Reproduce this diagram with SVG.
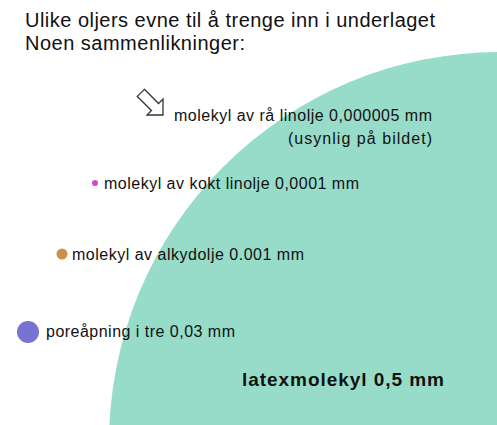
<svg xmlns="http://www.w3.org/2000/svg" width="497" height="425" viewBox="0 0 497 425">
<style>
text{font-family:"Liberation Sans",Arial,sans-serif;fill:#111}
.t{font-size:20px}
.l{font-size:16px}
.b{font-size:19px;font-weight:bold}
</style>
<rect width="497" height="425" fill="#fff"/>
<g id="latex">
<circle cx="500" cy="443" r="391" fill="#97dcc8"/>
<text class="b" x="242" y="386" textLength="202" lengthAdjust="spacing">latexmolekyl 0,5 mm</text>
</g>
<g id="title">
<text class="t" x="25" y="27" textLength="410" lengthAdjust="spacing">Ulike oljers evne til å trenge inn i underlaget</text>
<text class="t" x="25" y="50" textLength="220" lengthAdjust="spacing">Noen sammenlikninger:</text>
</g>
<g id="raa-linolje">
<polygon transform="translate(155,107) rotate(45)" points="-20,-5 0,-5 0,-11.3 11.3,0 0,11.3 0,5 -20,5" fill="#fff" stroke="#333" stroke-width="1.3" stroke-linejoin="miter"/>
<text class="l" x="174" y="121" textLength="258" lengthAdjust="spacing">molekyl av rå linolje 0,000005 mm</text>
<text class="l" x="288" y="144" textLength="144" lengthAdjust="spacing">(usynlig på bildet)</text>
</g>
<g id="kokt-linolje">
<circle cx="95" cy="183" r="3" fill="#c84fc8"/>
<text class="l" x="104" y="189" textLength="255" lengthAdjust="spacing">molekyl av kokt linolje 0,0001 mm</text>
</g>
<g id="alkydolje">
<circle cx="62" cy="254" r="5.5" fill="#c8914c"/>
<text class="l" x="72" y="260" textLength="232" lengthAdjust="spacing">molekyl av alkydolje 0.001 mm</text>
</g>
<g id="pore">
<circle cx="28" cy="332" r="11" fill="#7873d2"/>
<text class="l" x="46" y="337" textLength="189" lengthAdjust="spacing">poreåpning i tre 0,03 mm</text>
</g>
<g id="connectors"/>
</svg>
